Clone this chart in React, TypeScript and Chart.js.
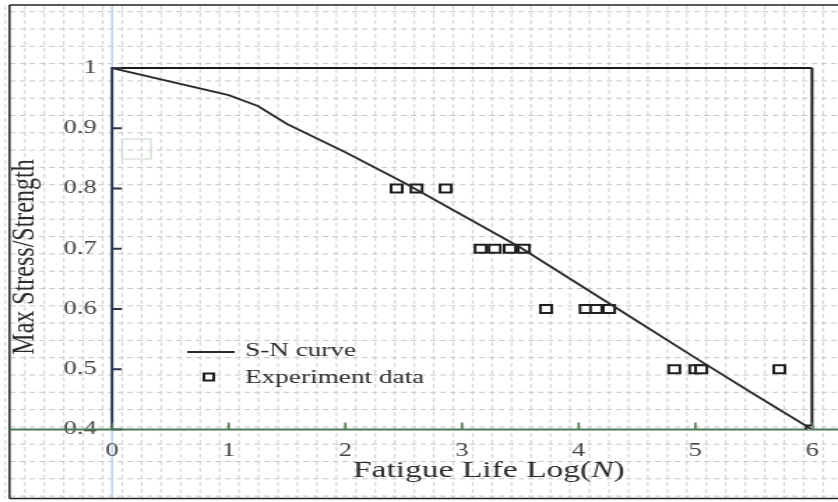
import React, { useEffect, useRef } from 'react';
import { Chart, registerables } from 'chart.js';

Chart.register(...registerables);

// ---- data ----
const curveX = [0, 1, 1.25, 1.5, 2, 2.5, 3, 3.5, 4, 4.5, 5, 5.5, 6];
const curveY = [1, 0.955, 0.937, 0.907, 0.86, 0.81, 0.756, 0.702, 0.641, 0.58, 0.519, 0.459, 0.4];
const expX = [2.44, 2.61, 2.86, 3.16, 3.28, 3.41, 3.53, 3.72, 4.06, 4.15, 4.26, 4.82, 5.0, 5.05, 5.72, 6.0];
const expY = [0.8, 0.8, 0.8, 0.7, 0.7, 0.7, 0.7, 0.6, 0.6, 0.6, 0.6, 0.5, 0.5, 0.5, 0.5, 0.4];
const xTickLabels = ['0', '1', '2', '3', '4', '5', '6'];
const yTickLabels = ['0.4', '0.5', '0.6', '0.7', '0.8', '0.9', '1'];
const seriesLabels = ['S-N curve', 'Experiment data'];
const xTitleParts = ['Fatigue Life Log(', 'N', ')'];
const yTitle = 'Max Stress/Strength';

// canvas is drawn narrower and stretched horizontally (the reference is stretched)
const CSS_W = 838;
const CSS_H = 502;
const INT_W = 600;
const S = CSS_W / INT_W;
const FONT = '"Liberation Serif", "Times New Roman", serif';

const line = (ctx: CanvasRenderingContext2D, x1: number, y1: number, x2: number, y2: number) => {
  ctx.beginPath();
  ctx.moveTo(x1, y1);
  ctx.lineTo(x2, y2);
  ctx.stroke();
};

const decor = {
  id: 'decor',
  beforeDraw(chart: any) {
    const ctx: CanvasRenderingContext2D = chart.ctx;
    const { width } = chart;
    ctx.save();
    ctx.fillStyle = '#ffffff';
    ctx.fillRect(0, 0, width, chart.height);
    // graph-paper style dashed background
    ctx.strokeStyle = '#c6c6c6';
    ctx.setLineDash([4, 3]);
    ctx.lineWidth = 0.8;
    for (let xr = 5.4; xr < CSS_W; xr += 19.47) {
      const x = xr / S;
      line(ctx, x, 6, x, 498);
    }
    ctx.lineWidth = 1;
    for (let y = 11.7; y < 498; y += 17.3) {
      line(ctx, 10 / S, y, width, y);
    }
    ctx.setLineDash([]);
    const x0 = chart.scales.x.getPixelForValue(0);
    ctx.strokeStyle = '#c3d3ea';
    ctx.lineWidth = 1.5;
    line(ctx, x0, 6, x0, 498);
    ctx.strokeStyle = '#c6d6c6';
    ctx.lineWidth = 1;
    ctx.strokeRect(122 / S, 139, 29 / S, 20);
    // outer frame
    ctx.strokeStyle = '#222';
    ctx.lineWidth = 1.5;
    line(ctx, 9.5 / S, 5, width + 2, 5);
    line(ctx, 9.5 / S, 5, 9.5 / S, 498.5);
    line(ctx, 9.5 / S, 498.5, width + 2, 498.5);
    ctx.restore();
  },
  beforeDatasetsDraw(chart: any) {
    const ctx: CanvasRenderingContext2D = chart.ctx;
    const { left, right, top, bottom } = chart.chartArea;
    const xs = chart.scales.x;
    const ys = chart.scales.y;
    ctx.save();
    ctx.lineWidth = 2;
    ctx.strokeStyle = '#1a1a1a';
    line(ctx, left, top, right, top);
    line(ctx, right, top, right, bottom);
    ctx.strokeStyle = '#2c3550';
    line(ctx, left, top - 1, left, bottom);
    ys.ticks.forEach((t: any) => {
      const y = ys.getPixelForValue(t.value);
      line(ctx, left, y, left + 7, y);
    });
    ctx.strokeStyle = '#4d7a52';
    line(ctx, 9.5 / S, bottom, chart.width, bottom);
    ctx.lineWidth = 1.6;
    xs.ticks.forEach((t: any) => {
      const x = xs.getPixelForValue(t.value);
      line(ctx, x, bottom, x, bottom - 7);
    });
    ctx.restore();
  },
  afterDraw(chart: any) {
    const ctx: CanvasRenderingContext2D = chart.ctx;
    ctx.save();
    ctx.fillStyle = '#2a2a2a';
    // x title with italic N
    ctx.textBaseline = 'alphabetic';
    ctx.textAlign = 'left';
    const fonts = [`24px ${FONT}`, `italic 24px ${FONT}`, `24px ${FONT}`];
    let total = 0;
    const widths = xTitleParts.map((p, i) => {
      ctx.font = fonts[i];
      const w = ctx.measureText(p).width;
      total += w;
      return w;
    });
    let x = 350 - total / 2;
    xTitleParts.forEach((p, i) => {
      ctx.font = fonts[i];
      ctx.fillText(p, x, 477);
      x += widths[i];
    });
    // y title
    ctx.save();
    ctx.translate(24, 257);
    ctx.rotate(-Math.PI / 2);
    ctx.textAlign = 'center';
    ctx.font = `24px ${FONT}`;
    ctx.fillText(yTitle, 0, 0);
    ctx.restore();
    // legend
    const ds = chart.data.datasets;
    ctx.strokeStyle = '#2a2a2a';
    ctx.lineWidth = 1.8;
    line(ctx, 134, 352, 168, 352);
    ctx.strokeStyle = '#1e1e1e';
    ctx.lineWidth = 2;
    ctx.fillStyle = '#fff';
    ctx.fillRect(146, 373.5, 7, 7);
    ctx.strokeRect(146, 373.5, 7, 7);
    ctx.fillStyle = '#2a2a2a';
    ctx.font = `19.5px ${FONT}`;
    ctx.textAlign = 'left';
    ctx.fillText(ds[0].label, 175.4, 356);
    ctx.fillText(ds[1].label, 175.4, 383);
    ctx.restore();
  },
};

export default function App() {
  const ref = useRef<HTMLCanvasElement | null>(null);
  useEffect(() => {
    document.body.style.margin = '0';
    const canvas = ref.current;
    if (!canvas) return;
    const chart = new Chart(canvas, {
      type: 'scatter',
      data: {
        datasets: [
          {
            label: seriesLabels[0],
            data: curveX.map((x, i) => ({ x, y: curveY[i] })),
            showLine: true,
            borderColor: '#2a2a2a',
            borderWidth: 1.8,
            pointRadius: 0,
            tension: 0,
          },
          {
            label: seriesLabels[1],
            data: expX.map((x, i) => ({ x, y: expY[i] })),
            showLine: false,
            pointStyle: 'rect',
            pointRadius: 5.7,
            borderWidth: 2,
            borderColor: '#1e1e1e',
            backgroundColor: '#ffffff',
          },
        ],
      },
      options: {
        responsive: false,
        animation: false,
        devicePixelRatio: 1,
        events: [],
        layout: { padding: { top: 68, right: INT_W - 812 / S, left: 0, bottom: 0 } },
        plugins: { legend: { display: false }, tooltip: { enabled: false } },
        scales: {
          x: {
            type: 'linear',
            min: 0,
            max: 6,
            afterFit: (s: any) => {
              s.height = CSS_H - 429.5;
            },
            afterBuildTicks: (s: any) => {
              s.ticks = xTickLabels.map((l) => ({ value: Number(l) }));
            },
            ticks: {
              callback: (_v: any, i: number) => xTickLabels[i],
              font: { family: FONT, size: 19 },
              color: '#444',
              padding: 10,
              maxRotation: 0,
            },
            grid: { display: false, drawTicks: false },
            border: { display: false },
          },
          y: {
            type: 'linear',
            min: 0.4,
            max: 1,
            afterFit: (s: any) => {
              s.width = 112 / S;
            },
            afterBuildTicks: (s: any) => {
              s.ticks = yTickLabels.map((l) => ({ value: Number(l) }));
            },
            ticks: {
              callback: (_v: any, i: number) => yTickLabels[i],
              font: { family: FONT, size: 19 },
              color: '#444',
              padding: 11,
            },
            grid: { display: false, drawTicks: false },
            border: { display: false },
          },
        },
      },
      plugins: [decor],
    } as any);
    return () => chart.destroy();
  }, []);
  return (
    <canvas
      ref={ref}
      width={INT_W}
      height={CSS_H}
      style={{ width: `${CSS_W}px`, height: `${CSS_H}px`, display: 'block' }}
    />
  );
}
